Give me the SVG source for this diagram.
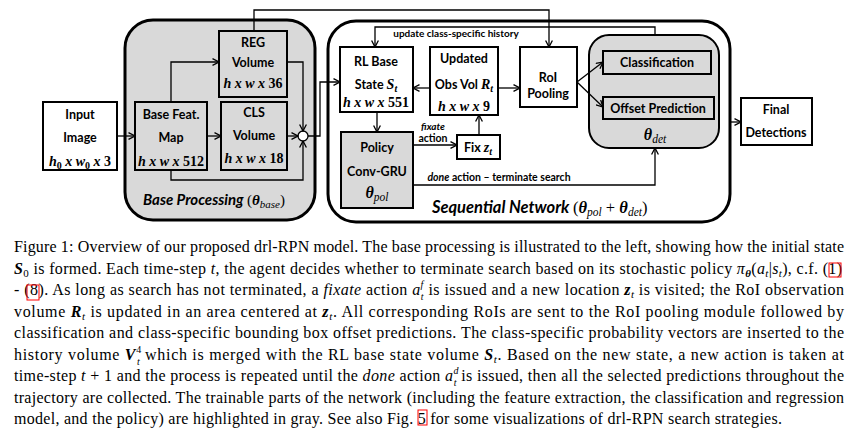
<svg xmlns="http://www.w3.org/2000/svg" width="853" height="433" viewBox="0 0 853 433">
<style>
.lbl{font-family:Lato,"Liberation Sans",sans-serif;font-weight:700;font-size:12.5px;fill:#000;text-anchor:middle}
.m{font-family:"Liberation Serif",serif;font-weight:700;font-style:italic;font-size:14px;fill:#000;text-anchor:middle}
.mn{font-style:normal}
.box{fill:#fff;stroke:#000;stroke-width:2}
.gbox{fill:#d9d9d9;stroke:#000;stroke-width:2}
.outer{fill:#d9d9d9;stroke:#000;stroke-width:3}
.outerw{fill:#fff;stroke:#000;stroke-width:3}
.c{fill:none;stroke:#000;stroke-width:1.3;marker-end:url(#a)}
.cap{font-family:"Liberation Serif",serif;font-size:16px;fill:#000}
.i{font-style:italic}
.bi{font-style:italic;font-weight:700}
.red{fill:none;stroke:#ff0000;stroke-width:1}
</style>
<defs>
<marker id="a" viewBox="0 0 8 8" refX="7.5" refY="4" markerWidth="8" markerHeight="8" orient="auto" markerUnits="userSpaceOnUse">
<path d="M1,0.6 L7.5,4 L1,7.4" fill="none" stroke="#000" stroke-width="1.3"/>
</marker>
</defs>
<rect width="853" height="433" fill="#fff"/>

<g id="base-processing">
<rect class="outer" x="125" y="20" width="190" height="200" rx="28"/>
<text class="lbl" x="143" y="205" style="text-anchor:start;font-size:15px;font-style:italic">Base Processing <tspan font-family="Liberation Serif" font-style="normal" font-weight="400">(</tspan><tspan font-family="Liberation Serif">θ</tspan><tspan font-family="Liberation Serif" font-weight="400" font-size="11" dy="3">base</tspan><tspan font-family="Liberation Serif" font-style="normal" font-weight="400" dy="-3">)</tspan></text>
</g>

<g id="sequential-network">
<rect class="outerw" x="328" y="21" width="402" height="201" rx="28"/>
<text class="lbl" x="432" y="213" style="text-anchor:start;font-size:16.5px;font-style:italic">Sequential Network <tspan font-family="Liberation Serif" font-style="normal" font-weight="400">(</tspan><tspan font-family="Liberation Serif">θ</tspan><tspan font-family="Liberation Serif" font-weight="400" font-size="11.5" dy="3">pol</tspan><tspan font-family="Liberation Serif" font-style="normal" font-weight="400" dy="-3"> + </tspan><tspan font-family="Liberation Serif">θ</tspan><tspan font-family="Liberation Serif" font-weight="400" font-size="11.5" dy="3">det</tspan><tspan font-family="Liberation Serif" font-style="normal" font-weight="400" dy="-3">)</tspan></text>
</g>

<g id="input-image">
<rect class="box" x="43" y="102" width="74" height="68"/>
<text class="lbl" x="80" y="119">Input</text>
<text class="lbl" x="80" y="142">Image</text>
<text class="m" x="80" y="166">h<tspan class="mn" font-size="10" dy="3">0</tspan><tspan dy="-3"> x w</tspan><tspan class="mn" font-size="10" dy="3">0</tspan><tspan dy="-3"> x </tspan><tspan class="mn">3</tspan></text>
</g>

<g id="base-feat-map">
<rect class="gbox" x="135" y="102" width="72" height="68"/>
<text class="lbl" x="171" y="119">Base Feat.</text>
<text class="lbl" x="171" y="142">Map</text>
<text class="m" x="171" y="166">h x w x <tspan class="mn">512</tspan></text>
</g>

<g id="reg-volume">
<rect class="gbox" x="219" y="31" width="68" height="66"/>
<text class="lbl" x="253" y="47">REG</text>
<text class="lbl" x="253" y="67">Volume</text>
<text class="m" x="253" y="88">h x w x <tspan class="mn">36</tspan></text>
</g>

<g id="cls-volume">
<rect class="gbox" x="221" y="102" width="66" height="68"/>
<text class="lbl" x="254" y="117">CLS</text>
<text class="lbl" x="254" y="140">Volume</text>
<text class="m" x="254" y="163">h x w x <tspan class="mn">18</tspan></text>
</g>

<g id="merge">
<circle cx="303" cy="136" r="5" fill="#fff" stroke="#000" stroke-width="1.3"/>
</g>

<g id="rl-base-state">
<rect class="box" x="340" y="47" width="73" height="65"/>
<text class="lbl" x="376" y="66">RL Base</text>
<text class="lbl" x="376" y="89">State <tspan font-family="Liberation Serif" font-style="italic" font-size="14">S</tspan><tspan font-family="Liberation Serif" font-style="italic" font-size="10" dy="3">t</tspan></text>
<text class="m" x="376" y="107">h x w x <tspan class="mn">551</tspan></text>
</g>

<g id="updated-obs-vol">
<rect class="box" x="430" y="47" width="68" height="68"/>
<text class="lbl" x="464" y="63">Updated</text>
<text class="lbl" x="464" y="89">Obs Vol <tspan font-family="Liberation Serif" font-style="italic" font-size="14">R</tspan><tspan font-family="Liberation Serif" font-style="italic" font-size="10" dy="3">t</tspan></text>
<text class="m" x="464" y="111">h x w x <tspan class="mn">9</tspan></text>
</g>

<g id="roi-pooling">
<rect class="box" x="520" y="47" width="57" height="60"/>
<text class="lbl" x="548" y="82">RoI</text>
<text class="lbl" x="548" y="98">Pooling</text>
</g>

<g id="policy">
<rect class="gbox" x="341" y="132" width="72" height="76"/>
<text class="lbl" x="377" y="152">Policy</text>
<text class="lbl" x="377" y="176">Conv-GRU</text>
<text class="m" x="377" y="198" style="font-size:16px">θ<tspan font-weight="400" font-size="11.5" dy="3">pol</tspan></text>
</g>

<g id="fix">
<rect class="box" x="457" y="135" width="43" height="24"/>
<text class="lbl" x="478" y="152">Fix <tspan font-family="Liberation Serif" font-style="italic" font-size="14">z</tspan><tspan font-family="Liberation Serif" font-style="italic" font-size="10" dy="3">t</tspan></text>
</g>

<g id="detection">
<rect class="gbox" x="589" y="35" width="130" height="113" rx="20"/>
<text class="m" x="655" y="140" style="font-size:16px">θ<tspan font-weight="400" font-size="11.5" dy="3">det</tspan></text>
</g>

<g id="classification">
<rect class="gbox" x="603" y="51" width="108" height="23"/>
<text class="lbl" x="657" y="67">Classification</text>
</g>

<g id="offset-prediction">
<rect class="gbox" x="603" y="97" width="111" height="22"/>
<text class="lbl" x="658" y="112.5">Offset Prediction</text>
</g>

<g id="final-detections">
<rect class="box" x="741" y="98" width="71" height="47"/>
<text class="lbl" x="776" y="114">Final</text>
<text class="lbl" x="776" y="137">Detections</text>
</g>

<g id="connectors">
<path class="c" d="M117,136 H135"/>
<path class="c" d="M207,136 H221"/>
<path class="c" d="M171,102 V62 H219"/>
<path class="c" d="M287,62 H303 V131"/>
<path class="c" d="M287,136 H298"/>
<path class="c" d="M171,170 V180 H303 V141"/>
<path class="c" d="M308,136 H320 V82 H340"/>
<path class="c" d="M254,31 V10 H549 V47"/>
<path class="c" d="M430,88 H413"/>
<path class="c" d="M498,88 H520"/>
<path class="c" d="M377,112 V132"/>
<path class="c" d="M413,145 H457"/>
<path class="c" d="M479,135 V115"/>
<path class="c" d="M655,35 V27 H375 V47"/>
<path class="c" d="M413,185 H655 V148"/>
<path class="c" d="M577,82 L603,62"/>
<path class="c" d="M577,82 L603,107"/>
<path class="c" d="M730,122 H741"/>
<text class="lbl" x="456" y="37" style="font-size:10px">update class-specific history</text>
<text class="lbl" x="433" y="130" style="font-size:10px;font-style:italic">fixate</text>
<text class="lbl" x="433" y="142" style="font-size:10.5px">action</text>
<text class="lbl" x="499" y="181" style="font-size:10.5px"><tspan font-style="italic">done</tspan> action – terminate search</text>
</g>

<g id="caption" class="cap">
<text x="14" y="252" textLength="830" lengthAdjust="spacing">Figure 1: Overview of our proposed drl-RPN model. The base processing is illustrated to the left, showing how the initial state</text>
<text x="14" y="273.5" textLength="828" lengthAdjust="spacing"><tspan class="bi">S</tspan><tspan font-size="11" dy="3">0</tspan><tspan dy="-3"> is formed. Each time-step </tspan><tspan class="i">t</tspan>, the agent decides whether to terminate search based on its stochastic policy <tspan class="i">π</tspan><tspan class="bi" font-size="11" dy="3">θ</tspan><tspan dy="-3">(</tspan><tspan class="i">a</tspan><tspan class="i" font-size="11" dy="3">t</tspan><tspan dy="-3">|</tspan><tspan class="i">s</tspan><tspan class="i" font-size="11" dy="3">t</tspan><tspan dy="-3">), c.f. (1)</tspan></text>
<text x="14" y="295" textLength="830" lengthAdjust="spacing">- (8). As long as search has not terminated, a <tspan class="i">fixate</tspan> action <tspan class="i">a</tspan><tspan class="i" font-size="10" dy="-7">f</tspan><tspan class="i" font-size="10" dx="-3" dy="12">t</tspan><tspan dy="-5"> is issued and a new location </tspan><tspan class="bi">z</tspan><tspan class="i" font-size="11" dy="3">t</tspan><tspan dy="-3"> is visited; the RoI observation</tspan></text>
<text x="14" y="316.5" textLength="830" lengthAdjust="spacing">volume <tspan class="bi">R</tspan><tspan class="i" font-size="11" dy="3">t</tspan><tspan dy="-3"> is updated in an area centered at </tspan><tspan class="bi">z</tspan><tspan class="i" font-size="11" dy="3">t</tspan><tspan dy="-3">. All corresponding RoIs are sent to the RoI pooling module followed by</tspan></text>
<text x="14" y="338" textLength="830" lengthAdjust="spacing">classification and class-specific bounding box offset predictions. The class-specific probability vectors are inserted to the</text>
<text x="14" y="359.5" textLength="830" lengthAdjust="spacing">history volume <tspan class="bi">V</tspan><tspan font-size="10" dy="-7">4</tspan><tspan class="i" font-size="10" dx="-5" dy="12">t</tspan><tspan dy="-5"> which is merged with the RL base state volume </tspan><tspan class="bi">S</tspan><tspan class="i" font-size="11" dy="3">t</tspan><tspan dy="-3">. Based on the new state, a new action is taken at</tspan></text>
<text x="14" y="381" textLength="830" lengthAdjust="spacing">time-step <tspan class="i">t</tspan> + 1 and the process is repeated until the <tspan class="i">done</tspan> action <tspan class="i">a</tspan><tspan class="i" font-size="10" dy="-7">d</tspan><tspan class="i" font-size="10" dx="-5" dy="12">t</tspan><tspan dy="-5"> is issued, then all the selected predictions throughout the</tspan></text>
<text x="14" y="402.5" textLength="830" lengthAdjust="spacing">trajectory are collected. The trainable parts of the network (including the feature extraction, the classification and regression</text>
<text x="14" y="424" textLength="768" lengthAdjust="spacing">model, and the policy) are highlighted in gray. See also Fig. 5 for some visualizations of drl-RPN search strategies.</text>
<rect class="red" x="829" y="263" width="12" height="14"/>
<rect class="red" x="27" y="285" width="12" height="15"/>
<rect class="red" x="418" y="410" width="9" height="15"/>
</g>
</svg>
